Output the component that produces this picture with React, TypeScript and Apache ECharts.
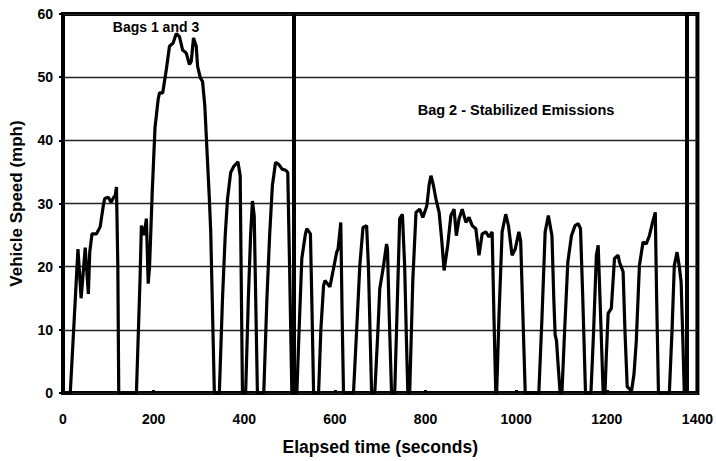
import React, { useEffect, useRef } from "react";
import * as echarts from "echarts";

// Driving schedule: elapsed time (s) and vehicle speed (mph)
const elapsedSeconds = [
  0, 16, 25, 33, 40, 49, 56, 59, 64, 74, 82, 89, 92, 100, 106, 112, 115, 118, 121, 123,
  162, 170, 173, 179, 184, 188, 191, 197, 203, 210, 213, 220, 228, 235, 243, 250, 257, 264, 272, 279,
  283, 288, 294, 297, 303, 308, 313, 318, 323, 326, 334,
  345, 352, 358, 363, 370, 377, 386, 391, 393, 396,
  403, 409, 414, 418, 422, 426, 429,
  443, 450, 456, 462, 469, 476, 484, 491, 496, 500, 505,
  516, 521, 527, 535, 538, 546, 549, 553,
  564, 569, 575, 578, 589, 597, 604, 607, 613, 616, 619,
  641, 648, 655, 662, 670, 674, 681,
  688, 695, 699, 707, 714, 716, 720, 725,
  732, 738, 743, 749, 754, 758, 761,
  765, 772, 779, 787, 794, 800, 803, 808, 812, 817, 823, 830, 836, 841, 849, 856, 863, 868, 874, 881,
  889, 896, 903, 911, 918, 925, 933, 940, 947, 951, 955,
  957, 962, 969, 977, 983, 991, 998, 1006, 1010, 1015, 1020,
  1050, 1057, 1064, 1071, 1079, 1083, 1086, 1089, 1093, 1097,
  1101, 1107, 1114, 1122, 1130, 1137, 1142, 1147, 1153,
  1165, 1171, 1177, 1181, 1185, 1192,
  1196, 1199, 1203, 1210, 1217, 1225, 1228, 1236, 1240, 1245, 1252,
  1254, 1260, 1265, 1272, 1280, 1287, 1294, 1301, 1307, 1310, 1314,
  1338, 1344, 1349, 1355, 1360, 1364, 1368, 1371,
];

const speedMph = [
  0, 0, 12, 22.8, 15, 23, 15.7, 22.3, 25.2, 25.2, 26.3, 29.7, 30.8, 31, 30.2, 31, 31.2, 32.6, 20, 0,
  0, 18, 26.5, 25, 27.6, 17.3, 20, 32, 42, 46.5, 47.5, 47.5, 51.2, 54.9, 55.4, 56.9, 56.4, 54.3, 53.8, 52,
  52.5, 56.2, 54.9, 51.7, 49.9, 49.3, 45.4, 38, 30.7, 25.5, 0,
  0, 15, 25, 30.7, 34.9, 35.9, 36.6, 34.4, 20, 0,
  0, 15, 25, 30.4, 28, 12, 0,
  0, 15, 25, 32.8, 36.5, 36.2, 35.4, 35.3, 34.9, 20, 0,
  0, 10, 21.3, 25.2, 26, 25.2, 15, 0,
  0, 10, 17, 17.8, 16.8, 19.7, 22.3, 22.8, 27, 12, 0,
  0, 10, 20.2, 26.2, 26.5, 20, 0,
  0, 10, 16.5, 20, 23.6, 22.8, 12, 0,
  0, 15, 27.6, 28.3, 20, 8, 0,
  0, 18, 28.6, 29.1, 27.8, 29, 29.7, 33, 34.4, 33, 30.7, 28.6, 24, 19.4, 23.4, 28.1, 29.1, 24.9, 27.6, 29.1,
  27, 27.8, 26.5, 26, 21.8, 25.2, 25.5, 24.7, 25.5, 12, 0,
  0, 12, 25.5, 28.3, 26.5, 21.8, 22.8, 25.5, 24, 12, 0,
  0, 12, 25.5, 28.1, 24.9, 15, 9.2, 8.3, 4, 0,
  0, 10, 20.7, 24.9, 26.5, 26.8, 26, 15, 0,
  0, 10, 21.8, 23.4, 15, 0,
  0, 6, 12.6, 13.4, 21.3, 21.8, 20.7, 19.2, 10, 1, 0.5,
  0, 3, 8.1, 20.2, 23.9, 23.6, 24.9, 27, 28.6, 15, 0,
  0, 10, 20.2, 22.3, 20, 17.6, 8, 0,
];

// Sampling-bag boundaries (s)
const bagBoundaries = [510, 1376];

const xTicks = { min: 0, max: 1400, interval: 200 };
const yTicks = { min: 0, max: 60, interval: 10 };

const FONT = "'Liberation Sans', Arial, sans-serif";

export default function App() {
  const ref = useRef<HTMLDivElement>(null);

  useEffect(() => {
    if (!ref.current) return;
    const chart = echarts.init(ref.current, undefined, { renderer: "svg" });
    const points = elapsedSeconds.map((t, i) => [t, speedMph[i]]);

    chart.setOption({
      animation: false,
      backgroundColor: "#ffffff",
      textStyle: { fontFamily: FONT },
      grid: {
        left: 62,
        right: 13,
        top: 14,
        bottom: 66,
        show: true,
        borderColor: "#000",
        borderWidth: 4,
        backgroundColor: "transparent",
      },
      xAxis: {
        type: "value",
        ...xTicks,
        name: "Elapsed time (seconds)",
        nameLocation: "middle",
        nameGap: 45,
        nameTextStyle: { fontFamily: FONT, fontWeight: "bold", fontSize: 17.5, color: "#000" },
        axisLine: { show: false },
        axisTick: { show: true, inside: true, length: 3, lineStyle: { color: "#000", width: 3 } },
        axisLabel: {
          margin: 19,
          fontFamily: FONT,
          fontWeight: "bold",
          fontSize: 14,
          color: "#000",
          formatter: (v: number) => String(v),
        },
        splitLine: { show: false },
      },
      yAxis: {
        type: "value",
        ...yTicks,
        name: "Vehicle Speed (mph)",
        nameLocation: "middle",
        nameGap: 38,
        nameTextStyle: { fontFamily: FONT, fontWeight: "bold", fontSize: 17, color: "#000" },
        axisLine: { show: false },
        axisTick: { show: true, length: 4, lineStyle: { color: "#000", width: 2 } },
        axisLabel: { margin: 10, fontFamily: FONT, fontWeight: "bold", fontSize: 14, color: "#000" },
        splitLine: { show: true, lineStyle: { color: "#222", width: 1.4 } },
      },
      series: [
        {
          type: "line",
          data: points,
          showSymbol: false,
          lineStyle: { color: "#000", width: 3.2 },
          markLine: {
            silent: true,
            symbol: "none",
            label: { show: false },
            lineStyle: { color: "#000", width: 4, type: "solid" },
            data: bagBoundaries.map((x) => ({ xAxis: x })),
          },
        },
      ],
      graphic: [
        {
          type: "text",
          x: 156,
          y: 27,
          style: {
            text: "Bags 1 and 3",
            fontFamily: FONT,
            fontWeight: "bold",
            fontSize: 14,
            fill: "#000",
            align: "center",
            verticalAlign: "middle",
          },
        },
        {
          type: "text",
          x: 516,
          y: 110,
          style: {
            text: "Bag 2 - Stabilized Emissions",
            fontFamily: FONT,
            fontWeight: "bold",
            fontSize: 14.5,
            fill: "#000",
            align: "center",
            verticalAlign: "middle",
          },
        },
      ],
    });

    return () => chart.dispose();
  }, []);

  return (
    <div
      ref={ref}
      style={{ position: "fixed", left: 0, top: 0, width: 716, height: 461, background: "#fff" }}
    />
  );
}
